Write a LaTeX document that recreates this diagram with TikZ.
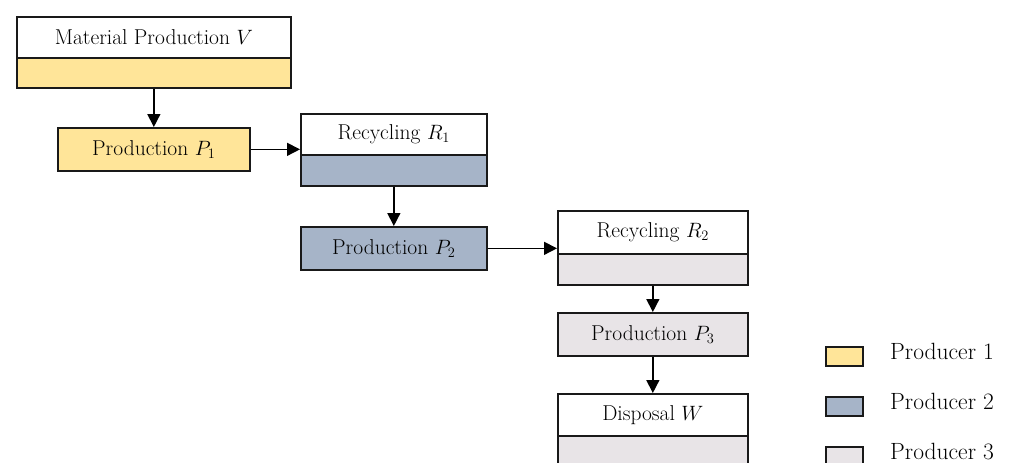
\documentclass[tikz,border=0pt]{standalone}
\usetikzlibrary{arrows.meta,calc}
\definecolor{pone}{RGB}{255,229,153}
\definecolor{ptwo}{RGB}{166,180,200}
\definecolor{pthree}{RGB}{232,228,231}
\definecolor{edge}{RGB}{25,25,25}
\tikzset{
  boxpart/.style={draw=edge, line width=1.7pt, inner sep=0pt, anchor=north west,
    font=\fontsize{21.5}{25}\selectfont},
  flow/.style={draw=black, line width=1.5pt, -{Triangle[length=13pt,width=13pt]}},
  legtext/.style={anchor=base west, inner sep=0pt, font=\fontsize{23.5}{27}\selectfont},
}
\begin{document}
\begin{tikzpicture}[x=1pt,y=-1pt]
\clip (0,0) rectangle (1010,463);
\fill[white] (0,0) rectangle (1010,463);
% Material Production V
\node[boxpart, fill=white, minimum width=274pt, minimum height=41pt] (Vt) at (16,16) {Material Production $V$};
\node[boxpart, fill=pone, minimum width=274pt, minimum height=30pt] (Vb) at (16,57) {};
% Production P1
\node[boxpart, fill=pone, minimum width=192pt, minimum height=43pt] (P1) at (57,127) {Production $P_1$};
% Recycling R1
\node[boxpart, fill=white, minimum width=186pt, minimum height=41pt] (R1t) at (300,113) {Recycling $R_1$};
\node[boxpart, fill=ptwo, minimum width=186pt, minimum height=31pt] (R1b) at (300,154) {};
% Production P2
\node[boxpart, fill=ptwo, minimum width=186pt, minimum height=43pt] (P2) at (300,226) {Production $P_2$};
% Recycling R2
\node[boxpart, fill=white, minimum width=190pt, minimum height=43pt] (R2t) at (557,210) {Recycling $R_2$};
\node[boxpart, fill=pthree, minimum width=190pt, minimum height=31pt] (R2b) at (557,253) {};
% Production P3
\node[boxpart, fill=pthree, minimum width=190pt, minimum height=43pt] (P3) at (557,312) {Production $P_3$};
% Disposal W
\node[boxpart, fill=white, minimum width=190pt, minimum height=42pt] (Wt) at (557,393) {Disposal $W$};
\node[boxpart, fill=pthree, minimum width=190pt, minimum height=40pt] (Wb) at (557,435) {};
% connectors
\draw[flow] (Vb.south) -- (P1.north);
\draw[flow] (P1.east) -- (P1.east -| R1t.west);
\draw[flow] (R1b.south) -- (P2.north);
\draw[flow] (P2.east) -- (P2.east -| R2t.west);
\draw[flow] (R2b.south) -- (P3.north);
\draw[flow] (P3.south) -- (Wt.north);
% legend
\node[boxpart, fill=pone, minimum width=37pt, minimum height=19pt] (L1) at (825,346) {};
\node[boxpart, fill=ptwo, minimum width=37pt, minimum height=19pt] (L2) at (825,396) {};
\node[boxpart, fill=pthree, minimum width=37pt, minimum height=19pt] (L3) at (825,446) {};
\node[legtext] (T1) at (890,359) {Producer 1};
\node[legtext] (T2) at (890,409) {Producer 2};
\node[legtext] (T3) at (890,459) {Producer 3};
\end{tikzpicture}
\end{document}
